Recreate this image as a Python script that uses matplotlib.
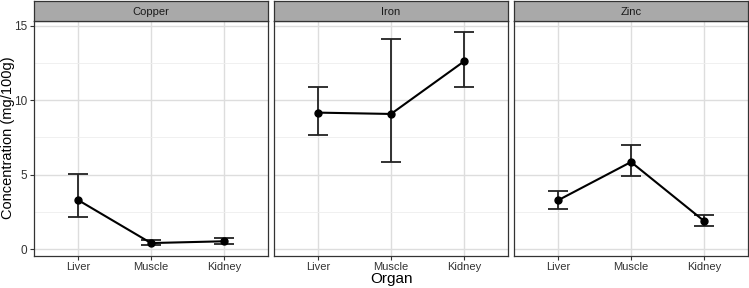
import matplotlib
matplotlib.use("Agg")
import matplotlib.pyplot as plt
from matplotlib.ticker import MultipleLocator

plt.rcParams["font.family"] = ["Liberation Sans", "DejaVu Sans"]

organs = ["Liver", "Muscle", "Kidney"]
metals = ["Copper", "Iron", "Zinc"]

# mean, lower and upper error bounds (mg/100g)
means = {
    "Copper": [3.30, 0.40, 0.52],
    "Iron": [9.17, 9.08, 12.62],
    "Zinc": [3.27, 5.85, 1.88],
}
lower = {
    "Copper": [2.15, 0.25, 0.32],
    "Iron": [7.69, 5.83, 10.90],
    "Zinc": [2.69, 4.91, 1.55],
}
upper = {
    "Copper": [5.06, 0.60, 0.76],
    "Iron": [10.90, 14.15, 14.62],
    "Zinc": [3.92, 6.97, 2.27],
}

W, H = 749, 288
fig = plt.figure(figsize=(W / 100, H / 100), dpi=100)
fig.patch.set_facecolor("white")

lefts = [34, 274, 514]
pw = 234
bottom_px, top_px, strip_h = 256, 21, 20

for i, metal in enumerate(metals):
    ax = fig.add_axes([lefts[i] / W, 1 - bottom_px / H, pw / W, (bottom_px - top_px) / H])
    x = list(range(len(organs)))
    m = means[metal]
    yerr = [[a - b for a, b in zip(m, lower[metal])], [c - a for a, c in zip(m, upper[metal])]]
    ax.errorbar(x, m, yerr=yerr, fmt="-o", color="black", ecolor="#222222",
                lw=1.5, elinewidth=1.3, capsize=7, capthick=1.3, ms=5, zorder=3)
    ax.set_xlim(-0.6, 2.6)
    ax.set_ylim(-0.47, 15.33)
    ax.set_xticks(x)
    ax.set_xticklabels(organs, fontsize=8, color="#333333")
    ax.yaxis.set_major_locator(MultipleLocator(5))
    ax.yaxis.set_minor_locator(MultipleLocator(2.5))
    ax.grid(True, which="major", color="#DDDDDD", lw=1.0, zorder=0)
    ax.grid(True, which="minor", axis="y", color="#EEEEEE", lw=0.6, zorder=0)
    ax.tick_params(which="minor", length=0)
    ax.tick_params(which="major", length=3, color="#333333", width=0.8, pad=1)
    for s in ax.spines.values():
        s.set_color("#333333")
        s.set_linewidth(0.9)
    if i == 0:
        ax.tick_params(axis="y", labelsize=8.5, labelcolor="#333333", pad=2)
    else:
        ax.tick_params(axis="y", left=False, labelleft=False)

    sax = fig.add_axes([lefts[i] / W, 1 - top_px / H, pw / W, strip_h / H])
    sax.set_facecolor("#A9A9A9")
    sax.set_xticks([])
    sax.set_yticks([])
    for s in sax.spines.values():
        s.set_color("#333333")
        s.set_linewidth(0.9)
    sax.text(0.5, 0.45, metal, ha="center", va="center", fontsize=8,
             color="#1A1A1A", transform=sax.transAxes)

fig.text(8 / W, 1 - 138 / H, "Concentration (mg/100g)", rotation=90,
         ha="center", va="center", fontsize=10.5)
fig.text(391 / W, 1 - 286 / H, "Organ", ha="center", va="bottom", fontsize=11)

fig.savefig("out.png", dpi=100)
